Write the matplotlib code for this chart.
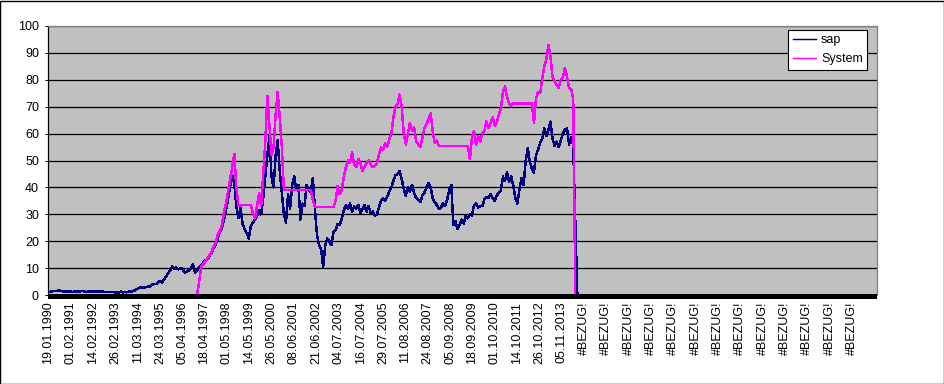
import matplotlib
matplotlib.use("Agg")
import matplotlib.pyplot as plt
from matplotlib.patches import Rectangle
import numpy as np

plt.rcParams["font.family"] = ["Liberation Sans", "DejaVu Sans"]

# weekly closing data, sampled every STEP weeks
STEP = 5
WEEKS_TOTAL = 2005
LABEL_EVERY = 54

date_labels = [
    "19.01.1990", "01.02.1991", "14.02.1992", "26.02.1993", "11.03.1994",
    "24.03.1995", "05.04.1996", "18.04.1997", "01.05.1998", "14.05.1999",
    "26.05.2000", "08.06.2001", "21.06.2002", "04.07.2003", "16.07.2004",
    "29.07.2005", "11.08.2006", "24.08.2007", "05.09.2008", "18.09.2009",
    "01.10.2010", "14.10.2011", "26.10.2012", "05.11.2013",
]
error_labels = ["#BEZUG!"] * 13
tick_labels = date_labels + error_labels

sap = [
    1.0, 1.1, 1.5, 1.5, 1.4, 1.8, 1.6, 1.3, 1.2, 1.4,
    1.2, 1.3, 1.1, 1.4, 1.2, 1.3, 1.5, 1.4, 1.2, 1.2,
    1.3, 1.3, 1.2, 1.3, 1.3, 1.3, 1.3, 1.2, 1.2, 1.2,
    1.2, 1.1, 1.0, 1.0, 0.9, 1.3, 1.0, 1.1, 1.0, 1.3,
    1.3, 1.4, 1.8, 2.2, 2.7, 2.8, 2.6, 2.9, 3.1, 3.0,
    3.8, 4.0, 4.1, 4.4, 5.2, 4.6, 5.8, 7.0, 8.0, 9.3,
    10.6, 9.6, 10.2, 9.5, 10.1, 9.7, 8.3, 8.6, 9.2, 9.8,
    11.6, 8.4, 9.0, 10.4, 11.0, 12.0, 12.8, 13.2, 14.6, 15.8,
    17.5, 18.8, 21.0, 23.5, 24.8, 28.0, 31.5, 36.0, 40.5, 44.5,
    41.5, 33.0, 28.5, 32.5, 26.5, 24.5, 23.0, 21.0, 25.5, 27.0,
    28.0, 29.5, 31.5, 30.0, 36.0, 44.0, 52.0, 59.0, 44.0, 40.0,
    52.0, 57.5, 46.0, 38.0, 30.0, 27.0, 37.5, 32.0, 41.0, 44.0,
    39.0, 41.0, 28.0, 34.0, 33.0, 41.0, 39.0, 38.0, 43.5, 32.0,
    22.5, 18.5, 17.0, 10.5, 18.5, 21.0, 20.0, 18.5, 23.5, 24.0,
    26.5, 26.0, 28.5, 31.5, 33.5, 32.0, 34.0, 31.0, 33.0, 32.0,
    33.5, 30.5, 32.0, 33.5, 31.0, 33.0, 30.5, 31.0, 29.5, 30.0,
    32.5, 35.0, 36.0, 35.0, 36.5, 38.5, 40.0, 42.5, 44.5, 45.0,
    46.0, 43.0, 39.5, 37.0, 40.0, 38.5, 41.0, 38.0, 36.0, 35.5,
    34.5, 37.0, 38.0, 40.0, 41.5, 40.0, 36.0, 34.5, 33.5, 32.0,
    32.5, 34.0, 33.0, 35.5, 39.0, 41.0, 26.0, 27.5, 24.5, 26.0,
    28.0, 26.5, 29.5, 28.5, 30.0, 29.5, 33.5, 34.0, 32.5, 33.0,
    33.0, 35.5, 36.5, 36.0, 37.5, 36.0, 35.0, 37.0, 38.0, 39.0,
    44.0, 42.5, 45.5, 42.0, 44.0, 40.5, 36.0, 34.0, 39.5, 43.5,
    41.0, 50.0, 54.5, 49.5, 47.0, 45.5, 52.0, 54.0, 56.5, 58.0,
    62.0, 59.0, 61.5, 64.5, 58.0, 55.5, 57.0, 55.0, 57.5, 60.0,
    61.5, 62.0, 56.0, 58.5, 55.5, 28.0, 0.0,
]

system = [0.0] * 72 + [
    0.0, 5.0, 10.5, 11.5, 12.5, 13.5, 14.8, 16.0,
    18.0, 19.5, 22.5, 23.8, 26.0, 31.0, 34.0, 38.5, 43.0, 47.5,
    52.5, 40.0, 33.2, 33.2, 33.5, 33.5, 33.5, 33.5, 33.5, 30.5,
    28.5, 33.0, 38.0, 33.0, 45.0, 57.0, 74.0, 63.0, 52.0, 55.0,
    67.0, 75.5, 66.0, 55.0, 39.0, 39.0, 39.0, 39.0, 39.0, 39.0,
    39.0, 39.0, 39.0, 39.0, 39.0, 39.0, 39.0, 39.0, 35.5, 32.7,
    32.7, 32.7, 32.7, 32.7, 32.7, 32.7, 32.7, 32.7, 32.7, 35.0,
    40.5, 37.5, 39.0, 44.0, 47.5, 50.0, 49.0, 53.0, 48.5, 47.5,
    50.5, 49.0, 46.0, 47.5, 49.0, 50.0, 48.5, 47.5, 48.0, 49.0,
    52.0, 55.0, 54.0, 56.5, 55.0, 58.0, 60.0, 66.0, 70.0, 71.0,
    74.5, 70.0, 60.0, 56.0, 60.0, 64.0, 61.0, 62.5, 57.0, 56.0,
    55.0, 58.5, 62.0, 63.5, 65.5, 67.5, 61.0, 56.5, 57.5, 55.4,
    55.4, 55.4, 55.4, 55.4, 55.4, 55.4, 55.4, 55.4, 55.4, 55.4,
    55.4, 55.4, 55.4, 55.4, 50.5, 58.5, 61.0, 56.0, 59.0, 57.0,
    60.0, 61.0, 64.5, 62.0, 64.0, 66.0, 63.0, 64.0, 67.0, 69.5,
    75.5, 77.5, 73.5, 71.0, 70.5, 71.2, 71.2, 71.2, 71.2, 71.2,
    71.2, 71.2, 71.2, 71.2, 71.2, 64.0, 73.0, 75.5, 75.0, 80.5,
    85.0, 87.5, 93.0, 88.5, 81.0, 79.5, 78.0, 77.0, 80.0, 81.0,
    84.5, 81.0, 77.0, 76.5, 73.0, 0.0, 0.0,
]

W, H = 945, 384
fig = plt.figure(figsize=(W / 100, H / 100), dpi=100)
fig.patch.set_facecolor("white")
left, right, top, bottom = 48.3, 877, 26, 295
ax = fig.add_axes([left / W, 1 - bottom / H, (right - left) / W, (bottom - top) / H])
ax.set_facecolor("#C0C0C0")

x_sap = np.arange(len(sap)) * STEP
x_sys = np.arange(len(system)) * STEP
# Excel style: hard-edged lines
ax.plot(x_sap, sap, color="#000080", lw=1.05, label="sap", zorder=3, antialiased=False)
ax.plot(x_sys, system, color="#FF00FF", lw=1.05, label="System", zorder=4, antialiased=False)

ax.set_xlim(0, WEEKS_TOTAL)
ax.set_ylim(0, 100)
ax.set_yticks(np.arange(0, 101, 10))
ax.set_yticklabels([str(v) for v in range(0, 101, 10)], fontsize=9)
ax.set_xticks(np.arange(len(tick_labels)) * LABEL_EVERY)
ax.set_xticklabels(tick_labels, rotation=90, fontsize=9, va="top", ha="center")
ax.tick_params(axis="x", length=0, pad=4.8)
ax.tick_params(axis="y", length=2.4, width=0.72, color="black", pad=4.3)

ax.yaxis.grid(True, color="black", lw=0.9)
ax.set_axisbelow(True)
for side in ("top", "right"):
    ax.spines[side].set_color("#808080")
    ax.spines[side].set_linewidth(0.9)
ax.spines["left"].set_color("black")
ax.spines["left"].set_linewidth(0.9)
ax.spines["bottom"].set_visible(False)

# thick black category axis bar
ax.add_patch(Rectangle((0, -0.015), 1, 0.019, transform=ax.transAxes,
                       facecolor="black", edgecolor="none", clip_on=False, zorder=6))

leg = ax.legend(loc="upper right", bbox_to_anchor=(0.988, 0.985), borderaxespad=0,
                fontsize=9, fancybox=False, framealpha=1, edgecolor="black",
                facecolor="white", handlelength=1.85, handletextpad=0.4,
                labelspacing=0.55, borderpad=0.35)
leg.get_frame().set_linewidth(0.8)
leg.set_zorder(7)

fig.add_artist(Rectangle((0.0005, 0.001), 0.998, 0.997, transform=fig.transFigure,
                         fill=False, edgecolor="black", lw=1.0))

fig.savefig("out.png", dpi=100)
